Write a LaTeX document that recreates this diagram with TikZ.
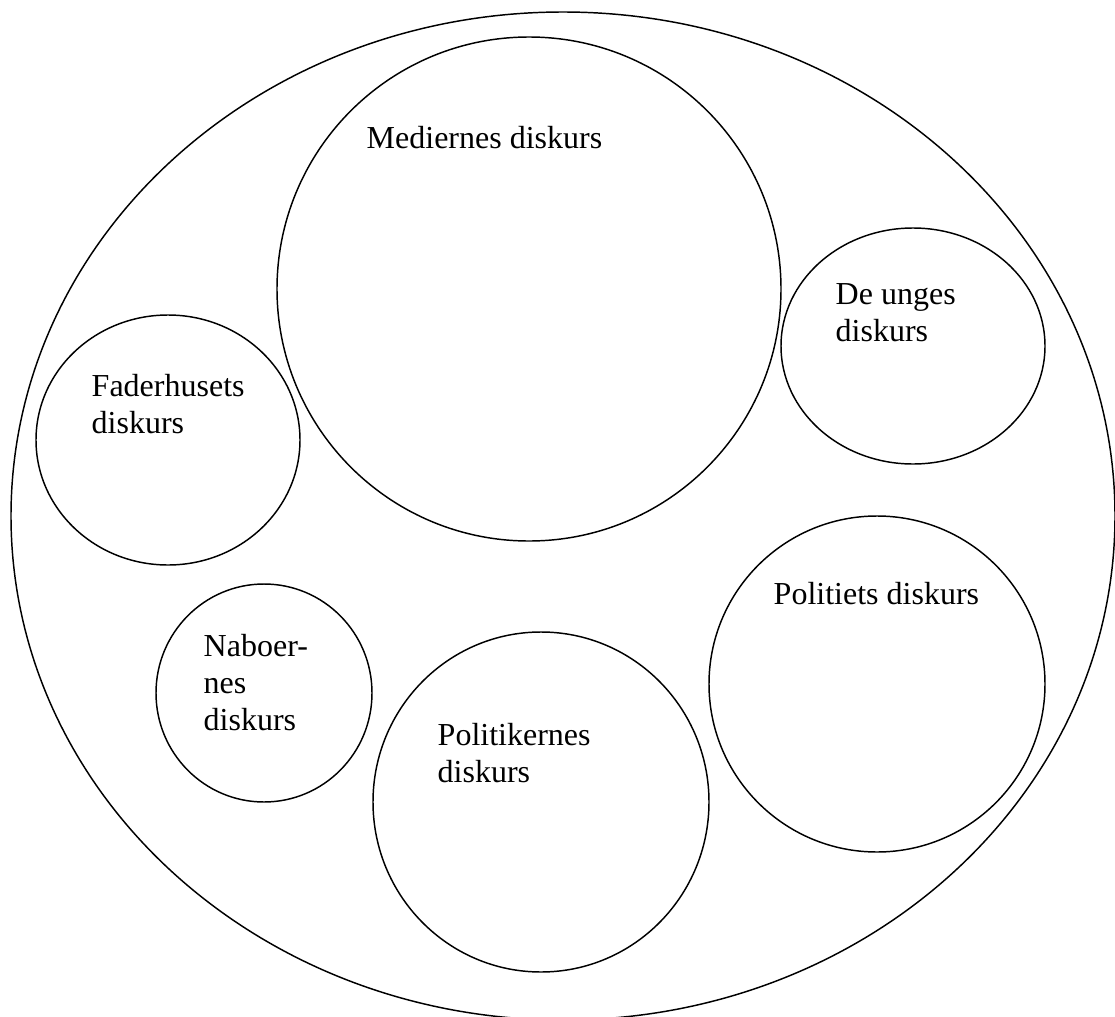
\documentclass[tikz,border=0pt]{standalone}
\usepackage{fontspec}
\setmainfont{Liberation Serif}
\begin{document}
\begin{tikzpicture}[x=0.75pt, y=-0.75pt, line width=1.1pt,
    label/.style={anchor=base west, align=left, inner sep=0pt,
        font=\fontsize{24}{27.6}\selectfont}]
            \clip (0,0) rectangle (1115,1017);
            \coordinate (O) at (563,516);
            \coordinate (M) at (529,289);
            \coordinate (U) at (913,346);
            \coordinate (F) at (168,440);
            \coordinate (P) at (877,684);
            \coordinate (N) at (264,693);
            \coordinate (K) at (541,802);
            \draw (O) ellipse [x radius=552, y radius=504];
            \draw (M) circle (252);
            \draw (U) ellipse [x radius=132, y radius=118];
            \draw (F) ellipse [x radius=132, y radius=125];
            \draw (P) circle (168);
            \draw (N) ellipse [x radius=108, y radius=109];
            \draw (K) ellipse [x radius=168, y radius=170];
            % base anchor sits on the last line
            \node[label] (medier) at (366,148) {Mediernes diskurs};
            \node[label] (unge) at (835,341) {De unges\\diskurs};
            \node[label] (fader) at (91,433) {Faderhusets\\diskurs};
            \node[label] (politi) at (773,604) {Politiets diskurs};
            \node[label] (nabo) at (203,730) {Naboer-\\nes\\diskurs};
            \node[label] (politiker) at (437,782) {Politikernes\\diskurs};
        \end{tikzpicture}
\end{document}
